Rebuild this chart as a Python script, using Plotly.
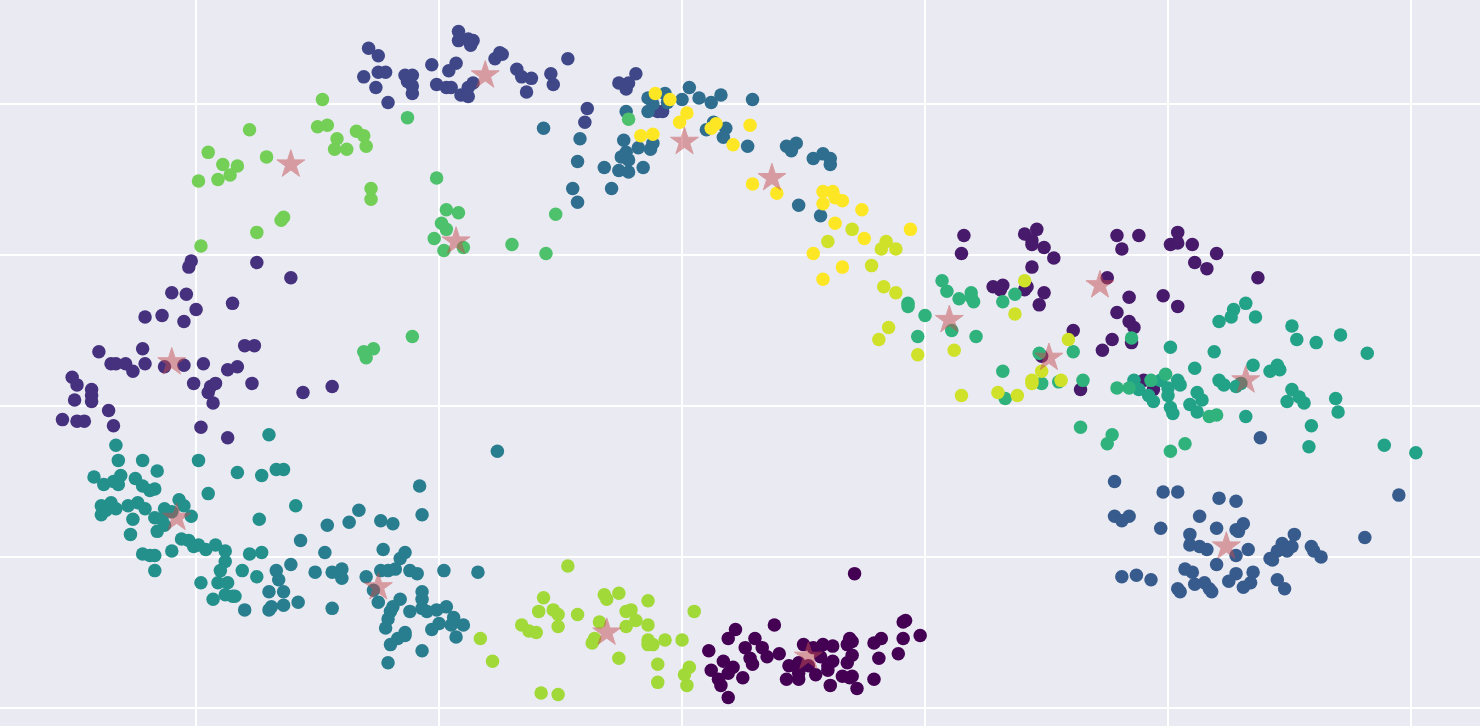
import plotly.graph_objects as go

# Cluster members (x, y), one list per k-means label
c0 = [(7.1,-11.1),(3.8,-14.5),(3.0,-15.4),(2.6,-16.0),(3.3,-16.0),(2.8,-16.7),(2.9,-17.1),(3.5,-16.6),(4.0,-16.4),(2.5,-18.0),
      (5.0,-15.8),(5.4,-16.0),(5.8,-15.8),(6.2,-15.9),(6.9,-15.4),(7.0,-15.6),(6.8,-15.8),(5.7,-16.6),(4.4,-17.2),(4.8,-17.0),
      (5.2,-17.2),(6.0,-17.2),(6.2,-16.9),(6.8,-17.0),(7.0,-16.5),(6.0,-17.5),(4.8,-17.7),(4.3,-18.1),(4.8,-18.1),(5.5,-17.8),
      (6.6,-17.9),(6.9,-18.0),(7.0,-17.9),(6.1,-18.5),(7.2,-18.7),(7.9,-18.1),(8.1,-16.7),(7.9,-15.7),(8.2,-15.4),(9.1,-15.4),
      (8.9,-16.4),(9.1,-14.3),(9.2,-14.2),(9.8,-15.2),(1.1,-16.2),(1.9,-15.4),(2.2,-14.8),(1.7,-16.9),(2.1,-17.3),(1.2,-17.5),
      (1.9,-17.7),(1.5,-18.1),(1.6,-18.5),(1.9,-19.3)]
c1 = [(11.6,11.3),(11.5,10.1),(14.1,11.4),(14.6,11.7),(14.4,11.0),(14.4,10.7),(14.9,10.5),(15.3,9.8),(14.4,9.2),(12.8,7.9),
      (13.2,8.0),(13.1,7.7),(14.1,7.7),(14.2,7.9),(14.9,7.5),(14.7,6.7),(16.1,5.0),(17.3,3.7),(17.5,8.5),(14.8,3.3),
      (17.9,11.3),(18.8,11.3),(18.1,10.4),(20.4,11.5),(20.1,10.7),(20.4,10.8),(21.0,10.7),(22.0,10.1),(21.1,9.5),(21.6,9.1),
      (23.7,8.5),(18.4,7.2),(19.8,7.3),(20.4,6.6),(17.9,6.2),(18.4,5.6),(18.6,5.2),(17.7,4.4),(18.5,4.2),(16.4,1.1),
      (19.0,1.7),(19.4,1.1)]
c2 = [(-20.2,9.6),(-20.3,9.2),(-17.5,9.5),(-16.1,8.5),(-21.0,7.5),(-20.4,7.4),(-18.5,6.8),(-20.0,6.4),(-22.1,5.9),(-21.4,6.0),
      (-20.5,5.6),(-24.0,3.6),(-22.2,3.8),(-18.0,4.0),(-17.6,4.0),(-23.5,2.8),(-23.3,2.8),(-22.9,2.8),(-22.1,2.8),(-21.3,2.6),
      (-20.5,2.7),(-19.7,2.8),(-18.7,2.4),(-18.3,2.6),(-22.6,2.3),(-25.1,1.9),(-24.9,1.4),(-24.3,1.1),(-24.3,0.7),(-24.3,0.3),
      (-25.0,0.4),(-20.1,1.5),(-19.4,1.3),(-19.2,1.5),(-19.5,0.9),(-19.3,0.2),(-17.7,1.5),(-15.6,0.9),(-14.4,1.3),(-23.6,-0.3),
      (-25.5,-0.9),(-24.9,-1.0),(-24.6,-1.0),(-23.4,-1.3),(-19.8,-1.4),(-18.7,-2.1)]
c3 = [(-12.9,23.7),(-12.5,23.2),(-13.1,21.8),(-12.6,21.1),(-12.5,22.1),(-12.2,22.1),(-12.1,20.1),(-11.4,21.9),(-11.1,21.9),(-11.3,21.5),
      (-11.1,21.2),(-11.1,20.7),(-10.3,22.6),(-10.1,21.3),(-9.2,24.8),(-9.2,24.2),(-8.8,24.3),(-8.6,24.2),(-8.7,23.9),(-9.3,22.7),
      (-9.6,22.2),(-9.7,21.1),(-9.5,21.1),(-9.1,20.6),(-8.8,20.5),(-8.6,21.4),(-8.8,21.1),(-7.7,23.0),(-7.5,23.4),(-7.4,23.3),
      (-6.8,22.3),(-6.6,21.8),(-6.2,21.7),(-6.4,20.8),(-5.4,22.0),(-5.3,21.3),(-4.7,23.0),(-2.6,21.4),(-2.2,21.4),(-2.3,21.0),
      (-1.9,22.0),(-3.9,19.7),(-4.0,18.8),(-1.0,19.5),(-0.8,19.5)]
c4 = [(23.8,-2.1),(17.8,-5.0),(19.8,-5.7),(20.4,-5.7),(22.1,-6.1),(22.8,-6.3),(29.5,-5.9),(17.8,-7.3),(18.1,-7.6),(18.4,-7.3),
      (19.7,-8.1),(21.3,-7.3),(22.0,-8.1),(22.8,-8.2),(22.9,-8.3),(23.1,-7.8),(20.9,-8.5),(20.9,-9.2),(21.3,-9.3),(21.6,-9.5),
      (23.3,-9.5),(22.8,-9.9),(22.0,-10.5),(25.2,-8.5),(24.7,-9.1),(25.1,-9.3),(24.5,-9.6),(24.9,-9.6),(25.9,-9.3),(26.0,-9.6),
      (26.3,-10.0),(28.1,-8.7),(24.2,-10.1),(24.3,-10.2),(20.7,-10.8),(21.0,-11.0),(18.1,-11.3),(18.7,-11.2),(19.3,-11.5),(23.5,-11.0),
      (22.8,-11.1),(22.5,-11.6),(24.5,-11.5),(24.8,-12.1),(21.1,-11.8),(21.5,-11.7),(21.7,-12.1),(21.8,-12.3),(20.4,-12.1),(20.5,-12.3),
      (23.1,-12.0),(23.4,-11.7)]
c5 = [(-5.7,18.4),(-4.2,17.7),(-4.3,16.2),(-4.5,14.4),(-4.3,13.5),(-3.2,15.8),(-2.9,14.4),(-2.4,17.6),(-2.3,19.5),(-2.6,15.6),
      (-2.2,15.5),(-2.5,16.5),(-2.3,16.8),(-2.2,16.3),(-1.8,17.1),(-1.6,15.8),(-1.3,17.0),(-1.2,17.4),(-1.4,19.5),(-1.4,20.4),
      (-1.2,20.0),(-0.7,20.7),(-0.6,20.1),(0.0,20.3),(0.3,21.1),(0.7,20.4),(1.2,20.1),(1.6,20.6),(1.3,18.8),(1.0,18.3),
      (1.8,18.4),(1.7,17.8),(2.7,17.2),(4.3,17.2),(4.7,17.4),(4.5,16.9),(5.4,16.4),(5.8,16.7),(6.1,16.4),(6.1,16.0),
      (4.8,13.3),(5.7,12.6),(2.9,20.3)]
c6 = [(-18.0,-13.5),(-16.7,-10.9),(-16.6,-11.5),(-17.0,-12.3),(-16.4,-12.3),(-17.0,-13.5),(-16.9,-13.3),(-16.4,-13.2),(-15.8,-13.0),(-16.1,-10.5),
      (-15.7,-8.9),(-14.6,-7.9),(-13.7,-7.7),(-13.3,-6.9),(-14.7,-9.7),(-15.1,-11.0),(-14.4,-11.0),(-14.0,-10.8),(-14.0,-11.4),(-14.4,-13.4),
      (-13.0,-11.3),(-7.6,-3.0),(-10.8,-5.3),(-10.7,-7.2),(-12.4,-7.6),(-11.9,-7.8),(-12.3,-9.5),(-11.4,-9.7),(-11.6,-10.1),(-12.4,-10.9),
      (-12.1,-10.9),(-11.8,-10.8),(-11.2,-10.9),(-10.9,-11.1),(-9.8,-10.9),(-8.4,-11.0),(-12.7,-12.2),(-12.5,-13.0),(-11.6,-12.8),(-11.9,-13.3),
      (-12.0,-13.6),(-11.2,-13.6),(-10.7,-12.3),(-10.7,-12.8),(-10.7,-13.4),(-10.5,-13.6),(-10.1,-13.5),(-9.7,-13.3),(-9.4,-14.0),(-10.0,-14.4),
      (-10.3,-14.8),(-9.5,-14.5),(-9.0,-14.5),(-9.3,-15.3),(-12.1,-14.1),(-12.2,-14.7),(-11.4,-15.0),(-11.4,-15.2),(-11.7,-15.4),(-12.0,-15.8),
      (-10.7,-16.2),(-12.1,-17.0)]
c7 = [(-17.0,-1.9),(-23.3,-2.6),(-23.2,-3.6),(-22.2,-3.6),(-21.6,-4.3),(-19.9,-3.6),(-24.2,-4.7),(-23.8,-5.2),(-23.4,-5.0),(-23.1,-4.6),
      (-23.2,-5.2),(-22.5,-4.8),(-22.2,-5.3),(-21.9,-5.6),(-21.7,-5.5),(-18.3,-4.4),(-17.3,-4.6),(-16.7,-4.2),(-16.4,-4.2),(-19.5,-5.8),
      (-23.9,-6.6),(-23.5,-6.4),(-23.7,-6.9),(-23.9,-7.2),(-23.3,-6.8),(-22.8,-6.6),(-22.4,-6.4),(-22.1,-6.8),(-22.6,-7.5),(-22.7,-8.5),
      (-21.3,-6.8),(-21.0,-7.0),(-20.7,-6.2),(-20.5,-6.6),(-20.2,-7.3),(-21.7,-7.4),(-21.4,-7.5),(-21.3,-7.9),(-21.6,-8.3),(-15.9,-6.6),
      (-17.4,-7.5),(-20.6,-8.8),(-20.3,-8.9),(-20.1,-9.3),(-19.9,-9.2),(-19.6,-9.5),(-19.2,-9.2),(-18.8,-9.6),(-18.8,-10.3),(-19.0,-10.9),
      (-18.1,-10.9),(-17.5,-11.3),(-17.8,-9.8),(-17.3,-9.7),(-22.2,-9.8),(-21.9,-9.9),(-21.7,-9.9),(-21.0,-9.6),(-21.7,-10.9),(-19.8,-11.7),
      (-19.1,-11.7),(-18.7,-11.7),(-18.8,-12.5),(-18.5,-12.6),(-18.4,-12.6),(-19.3,-12.8)]
c8 = [(23.2,6.8),(22.7,6.4),(22.6,5.9),(22.1,5.6),(23.6,5.9),(25.1,5.3),(25.3,4.4),(26.1,4.2),(27.1,4.7),(28.2,3.5),
      (20.1,3.9),(21.9,3.6),(21.1,2.5),(23.5,2.7),(24.2,2.3),(24.6,2.4),(24.5,2.7),(18.6,1.7),(18.8,1.1),(20.0,1.2),
      (20.0,0.7),(20.4,1.7),(20.5,1.4),(19.2,0.7),(19.4,0.3),(20.1,-0.1),(20.2,-0.5),(20.9,0.1),(21.2,0.9),(21.4,0.4),
      (21.2,-0.4),(22.1,1.7),(22.3,1.4),(22.8,1.3),(23.0,1.5),(23.2,-0.7),(25.1,1.1),(24.9,0.3),(25.4,0.6),(25.6,0.2),
      (26.9,0.5),(27.0,-0.4),(25.9,-1.3),(25.8,-2.7),(28.9,-2.6),(30.2,-3.1),(19.7,1.7)]
c9 = [(10.7,8.3),(10.9,7.6),(11.4,7.1),(11.9,7.5),(11.9,7.2),(12.0,6.9),(13.2,6.9),(13.7,7.4),(9.3,6.8),(9.3,6.6),
      (10.0,6.0),(9.7,4.6),(12.1,4.6),(11.1,5.0),(16.1,3.6),(14.7,3.5),(13.2,2.3),(14.8,1.5),(15.5,1.6),(16.5,1.7),
      (13.3,0.5),(16.4,-1.4),(17.5,-2.5),(17.7,-1.9),(18.5,4.5),(17.9,1.2),(18.4,1.2),(19.3,1.7),(19.9,2.1),(21.7,-0.7),
      (22.0,-0.6),(20.1,-3.0),(20.7,-2.5)]
c10 = [(-11.3,19.1),(-10.1,15.1),(-9.7,13.0),(-9.2,12.8),(-9.9,12.1),(-9.7,11.7),(-10.2,11.1),(-9.8,10.3),(-9.0,10.5),(-7.0,10.7),
       (-5.6,10.1),(-5.2,12.7),(-2.2,19.0),(-11.1,4.6),(-12.7,3.8),(-13.1,3.6),(-13.0,3.2)]
c11 = [(-14.8,20.3),(-17.8,18.3),(-15.0,18.5),(-14.6,18.6),(-14.2,17.7),(-13.4,18.2),(-13.1,17.9),(-14.3,17.0),(-13.8,17.0),(-13.0,17.2),
       (-19.5,16.8),(-18.9,16.0),(-18.3,15.9),(-18.6,15.3),(-19.1,15.0),(-19.9,14.9),(-17.1,16.5),(-12.8,14.4),(-12.8,13.7),(-16.4,12.5),
       (-16.5,12.3),(-17.5,11.5),(-19.8,10.6)]
c12 = [(-4.7,-10.6),(-5.7,-12.7),(-5.9,-13.6),(-5.3,-13.5),(-5.1,-13.8),(-5.1,-14.6),(-4.3,-13.8),(-6.6,-14.5),(-6.3,-14.9),(-6.0,-15.0),
       (-8.3,-15.4),(-7.8,-16.9),(-5.8,-19.0),(-5.1,-19.1),(-3.2,-12.5),(-3.1,-12.8),(-2.6,-12.4),(-2.3,-13.6),(-2.1,-13.5),(-1.9,-14.2),
       (-3.4,-14.3),(-2.3,-14.6),(-1.4,-12.9),(-1.4,-14.5),(-3.6,-15.4),(-3.7,-15.7),(-1.4,-15.5),(-1.2,-15.8),(-1.4,-15.8),(-0.7,-15.5),
       (0.0,-15.5),(-2.6,-16.7),(-1.0,-17.1),(-1.0,-18.3),(0.5,-13.6),(0.3,-17.3),(0.1,-17.8),(0.2,-18.5)]
c13 = [(6.0,10.9),(7.0,11.7),(8.4,10.9),(8.2,10.4),(8.8,10.4),(7.8,9.3),(8.3,7.9),(8.8,7.5),(8.5,5.2),(8.1,4.4),
       (9.7,3.4),(11.2,3.7),(14.1,8.3),(13.7,6.1),(15.9,4.4),(14.8,2.3),(14.4,1.7),(14.4,1.5),(15.6,1.7),(11.5,0.7),
       (13.0,0.9),(13.8,0.7)]
c14 = [(-1.1,20.7),(-0.5,20.3),(0.2,19.4),(-0.1,18.8),(-1.7,17.9),(-1.2,18.0),(1.4,18.7),(1.2,18.4),(2.8,18.6),(2.1,17.3),
       (2.9,14.7),(3.9,14.1),(5.8,14.2),(6.2,14.2),(6.3,13.8),(5.8,13.4),(6.6,13.6),(7.4,13.0),(6.3,12.1),(7.5,11.1),
       (9.4,11.7),(5.4,10.1),(6.6,9.2),(5.8,8.4)]

clusters = [c0, c1, c2, c3, c4, c5, c6, c7, c8, c9, c10, c11, c12, c13, c14]

# Cluster centres (one per label)
centers_x = [5.2, 17.2, -21.0, -8.1, 22.4, 0.1, -12.5, -20.8, 23.2, 11.0, -9.3, -16.1, -3.1, 15.1, 3.7]
centers_y = [-16.6, 8.0, 2.9, 21.9, -9.3, 17.5, -12.0, -7.4, 1.7, 5.7, 10.9, 16.0, -15.0, 3.2, 15.1]

xs, ys, labels = [], [], []
for lab, pts in enumerate(clusters):
    for (x, y) in pts:
        xs.append(x)
        ys.append(y)
        labels.append(lab)

fig = go.Figure()
fig.add_trace(go.Scatter(
    x=xs, y=ys, mode="markers",
    marker=dict(size=13.5, color=labels, colorscale="Viridis", cmin=0, cmax=14,
                line=dict(width=0), opacity=1.0),
    showlegend=False, hoverinfo="skip"))
fig.add_trace(go.Scatter(
    x=centers_x, y=centers_y, mode="markers",
    marker=dict(symbol="star", size=21, color="#C44E52", opacity=0.5,
                line=dict(width=1, color="#C44E52")),
    showlegend=False, hoverinfo="skip"))

fig.update_layout(
    width=1480, height=726,
    margin=dict(l=0, r=0, t=0, b=0),
    paper_bgcolor="#EAEAF2", plot_bgcolor="#EAEAF2",
    xaxis=dict(range=[-28.07, 32.84], dtick=10, tick0=0, showgrid=True, gridcolor="white",
               gridwidth=1.5, zeroline=False, showticklabels=False, ticks="", showline=False),
    yaxis=dict(range=[-21.19, 26.89], dtick=10, tick0=0, showgrid=True, gridcolor="white",
               gridwidth=1.5, zeroline=False, showticklabels=False, ticks="", showline=False),
)

fig.write_html("out.html", config={"displayModeBar": False},
               post_script="document.body.style.margin='0';")
